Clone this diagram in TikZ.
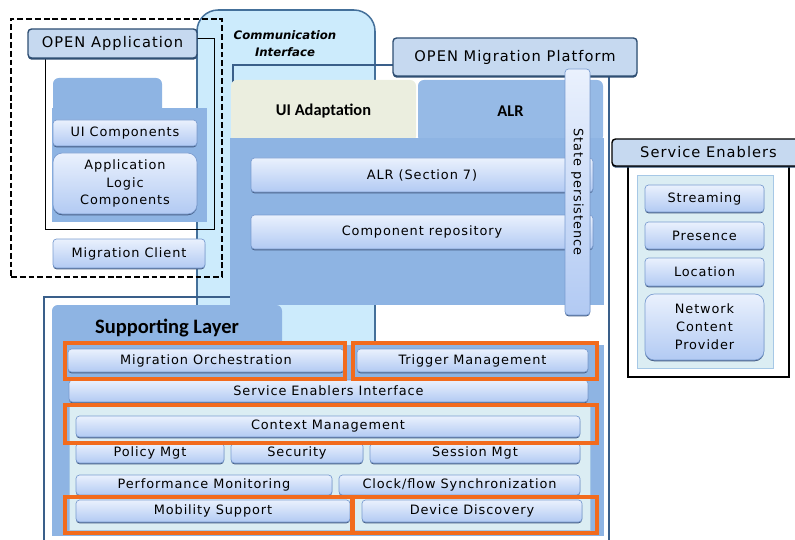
\documentclass[tikz,border=0pt]{standalone}
\usepackage{fontspec}
\setmainfont{DejaVu Sans}[LetterSpace=7]
\newfontfamily\tabfont{Carlito}
\newfontfamily\commfont{DejaVu Sans}
\usetikzlibrary{
  shadows
}
\definecolor{layerblue}{RGB}{142,180,227}
\definecolor{tabblue}{RGB}{150,186,230}
\definecolor{commblue}{RGB}{204,235,252}
\definecolor{commborder}{RGB}{68,112,154}
\definecolor{platborder}{RGB}{58,95,138}
\definecolor{headfill}{RGB}{198,217,240}
\definecolor{headborder}{RGB}{47,79,115}
\definecolor{btntop}{RGB}{234,241,253}
\definecolor{btnbot}{RGB}{178,202,243}
\definecolor{btnborder}{RGB}{122,156,208}
\definecolor{btnshade}{RGB}{72,96,134}
\definecolor{uibeige}{RGB}{235,238,223}
\definecolor{panelcyan}{RGB}{219,237,243}
\definecolor{panelborder}{RGB}{166,200,230}
\definecolor{hiorange}{RGB}{242,107,29}
\tikzset{
  pxbox/.style n args={4}{
    at={({(#1+#3)/2},{(#2+#4)/2})},
    minimum width={(#3-#1)*0.03cm}, minimum height={(#4-#2)*0.03cm},
    inner sep=0pt, outer sep=0pt
  },
  commbox/.style={
    draw=commborder, fill=commblue, line width=1.3pt,
    rounded corners=18pt
  },
  commtext/.style={
    font=\commfont\fontsize{10}{14.5}\selectfont\bfseries\itshape, align=center
  },
  platline/.style={draw=platborder, line width=2.2pt},
  layerfill/.style={fill=layerblue},
  tabbox/.style={
    rounded corners=5pt,
    font=\tabfont\fontsize{14}{16}\selectfont\bfseries
  },
  headbox/.style={
    draw=headborder, fill=headfill, line width=1.2pt,
    rounded corners=3pt, font=\fontsize{12.5}{15}\selectfont,
    drop shadow={shadow xshift=0pt, shadow yshift=-1.4pt,
      fill=headborder, opacity=1}
  },
  btnbox/.style={
    draw=btnborder, top color=btntop, bottom color=btnbot,
    line width=0.6pt, rounded corners=3pt,
    font=\fontsize{11}{15.3}\selectfont, align=center,
    drop shadow={shadow xshift=0pt, shadow yshift=-1.1pt,
      fill=btnshade, opacity=1}
  },
  panelbox/.style={draw=panelborder, fill=panelcyan, line width=0.6pt},
  hibox/.style={draw=hiorange, line width=2.6pt},
  appdash/.style={draw=black, line width=1.8pt, dash pattern=on 5pt off 2.5pt},
  thinbox/.style={draw=black, line width=0.7pt},
  seframe/.style={draw=black, line width=2pt, fill=white},
}
\begin{document}
\begin{tikzpicture}[x=0.03cm, y=-0.03cm]
  \useasboundingbox (0,0) rectangle (795,540);

  %% Communication Interface
  \node[commbox, pxbox={197}{10}{375}{420}] (comm) {};

  %% OPEN Migration Platform
  \draw[platline] (44,560) -- (44,297) -- (233,297) -- (233,65) -- (393,65);
  \draw[platline] (609,76) -- (609,560);

  \node[tabbox, fill=uibeige, pxbox={231}{80}{416}{142}] (uiad) {UI Adaptation};
  \node[tabbox, fill=tabblue, pxbox={418}{80}{603}{142}] (alrtab) {ALR};
  \node[layerfill, pxbox={230}{138}{604}{305}] (platbody) {};

  \node[headbox, pxbox={393}{38}{637}{76}] (plathead) {OPEN Migration Platform};

  \node[btnbox, pxbox={251}{158}{593}{192}] (alrsec) {ALR (Section 7)};
  \node[btnbox, pxbox={251}{215}{593}{249}] (comprepo) {Component repository};
  \node[btnbox, pxbox={565}{69}{590}{315}] (statep) {};
  \node[rotate=-90, font=\fontsize{11}{13}\selectfont] (statetxt)
    at (statep.center) {State persistence};

  %% Supporting Layer
  \node[tabbox, fill=layerblue, font=\tabfont\fontsize{17.5}{20}\selectfont\bfseries,
    pxbox={52}{305}{282}{352}] (suptab) {Supporting Layer};
  \node[layerfill, pxbox={52}{345}{604}{536}] (supbody) {};
  \node[panelbox, pxbox={69}{404}{590}{530}] (suppanel) {};

  \node[btnbox, pxbox={68}{349}{344}{372}] (morch) {Migration Orchestration};
  \node[btnbox, pxbox={357}{349}{588}{372}] (trig) {Trigger Management};
  \node[btnbox, pxbox={69}{380}{588}{402}] (seint) {Service Enablers Interface};
  \node[btnbox, pxbox={76}{416}{580}{437}] (ctx) {Context Management};
  \node[btnbox, pxbox={76}{443}{224}{463}] (policy) {Policy Mgt};
  \node[btnbox, pxbox={231}{443}{363}{463}] (secur) {Security};
  \node[btnbox, pxbox={370}{443}{580}{463}] (sess) {Session Mgt};
  \node[btnbox, pxbox={76}{475}{332}{495}] (perf) {Performance Monitoring};
  \node[btnbox, pxbox={339}{475}{580}{495}] (clock) {Clock/flow Synchronization};
  \node[btnbox, pxbox={76}{500}{350}{522}] (mobil) {Mobility Support};
  \node[btnbox, pxbox={362}{500}{582}{522}] (devdisc) {Device Discovery};

  %% highlighted blocks
  \node[hibox, pxbox={65}{343}{345}{379}] (himorch) {};
  \node[hibox, pxbox={353}{343}{597}{379}] (hitrig) {};
  \node[hibox, pxbox={65}{405}{597}{443}] (hictx) {};
  \node[hibox, pxbox={65}{497}{352}{533}] (himobil) {};
  \node[hibox, pxbox={353}{497}{597}{533}] (hidev) {};

  %% OPEN Application
  \node[appdash, pxbox={11}{19}{222}{277}] (appouter) {};
  \node[thinbox, pxbox={45}{38}{214}{229}] (appframe) {};
  \node[tabbox, fill=layerblue, pxbox={53}{78}{162}{115}] (apptab) {};
  \node[layerfill, pxbox={52}{108}{207}{222}] (appbody) {};
  \node[headbox, pxbox={28}{29}{197}{58}] (apphead) {OPEN Application};
  \node[btnbox, pxbox={53}{120}{197}{146}] (uicomp) {UI Components};
  \node[btnbox, rounded corners=8pt, pxbox={53}{153}{197}{214}] (applogic)
    {Application\\Logic\\Components};
  \node[btnbox, pxbox={53}{239}{205}{268}] (migclient) {Migration Client};

  \node[commtext] (commlbl) at (285,44) {Communication\\Interface};

  %% Service Enablers
  \node[seframe, pxbox={628}{160}{789}{377}] (seouter) {};
  \node[headbox, draw=black, pxbox={612}{139}{805}{166}] (sehead) {Service Enablers};
  \node[panelbox, pxbox={637}{175}{773}{368}] (sepanel) {};
  \node[btnbox, pxbox={645}{185}{764}{212}] (stream) {Streaming};
  \node[btnbox, pxbox={645}{222}{764}{249}] (pres) {Presence};
  \node[btnbox, pxbox={645}{258}{764}{286}] (loc) {Location};
  \node[btnbox, rounded corners=8pt, pxbox={645}{294}{764}{360}] (ncp)
    {Network\\Content\\Provider};

\end{tikzpicture}
\end{document}
